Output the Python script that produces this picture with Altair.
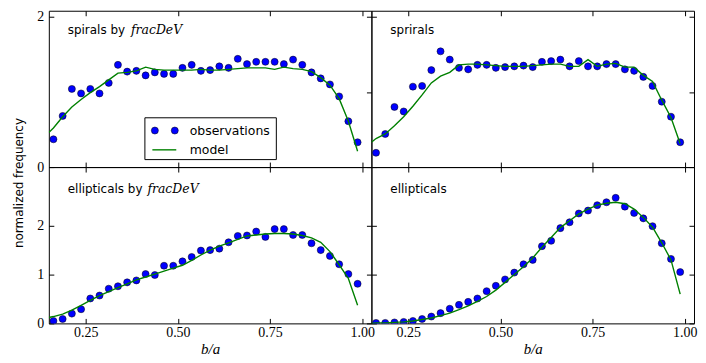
import altair as alt
import pandas as pd

# ---------------- data ----------------
obs_x = [0.1625, 0.1875, 0.2125, 0.2375, 0.2625, 0.2875, 0.3125, 0.3375, 0.3625, 0.3875,
         0.4125, 0.4375, 0.4625, 0.4875, 0.5125, 0.5375, 0.5625, 0.5875, 0.6125, 0.6375,
         0.6625, 0.6875, 0.7125, 0.7375, 0.7625, 0.7875, 0.8125, 0.8375, 0.8625, 0.8875,
         0.9125, 0.9375, 0.9625, 0.9875]
model_x = [0.15, 0.1625, 0.1875, 0.2125, 0.2375, 0.2625, 0.2875, 0.3125, 0.3375, 0.3625, 0.3875,
           0.4125, 0.4375, 0.4625, 0.4875, 0.5125, 0.5375, 0.5625, 0.5875, 0.6125, 0.6375,
           0.6625, 0.6875, 0.7125, 0.7375, 0.7625, 0.7875, 0.8125, 0.8375, 0.8625, 0.8875,
           0.9125, 0.9375, 0.9625, 0.9875]

spirals_dev_obs = [0.37, 0.68, 1.04, 0.98, 1.04, 0.98, 1.12, 1.36, 1.27, 1.28,
                   1.22, 1.26, 1.24, 1.24, 1.32, 1.36, 1.28, 1.29, 1.34, 1.32,
                   1.44, 1.37, 1.40, 1.40, 1.40, 1.37, 1.43, 1.36, 1.26, 1.18,
                   1.10, 0.94, 0.61, 0.33]
spirals_dev_model = [0.46, 0.52, 0.67, 0.80, 0.90, 0.99, 1.07, 1.16, 1.25, 1.26, 1.28,
                     1.33, 1.30, 1.29, 1.29, 1.29, 1.29, 1.30, 1.29, 1.29, 1.30,
                     1.31, 1.32, 1.32, 1.32, 1.30, 1.33, 1.31, 1.30, 1.27, 1.19,
                     1.09, 0.91, 0.61, 0.21]

spirals_obs = [0.19, 0.44, 0.80, 0.74, 1.07, 1.08, 1.29, 1.54, 1.43, 1.32,
               1.30, 1.36, 1.36, 1.32, 1.33, 1.34, 1.35, 1.33, 1.40, 1.41,
               1.43, 1.34, 1.41, 1.34, 1.34, 1.37, 1.37, 1.30, 1.28, 1.20,
               1.08, 0.87, 0.67, 0.33]
spirals_model = [0.33, 0.38, 0.44, 0.55, 0.67, 0.81, 0.96, 1.12, 1.21, 1.26, 1.36,
                 1.37, 1.37, 1.36, 1.35, 1.34, 1.34, 1.34, 1.35, 1.36, 1.37,
                 1.37, 1.34, 1.34, 1.43, 1.34, 1.37, 1.38, 1.33, 1.33, 1.22,
                 1.14, 0.89, 0.66, 0.31]

ellip_dev_obs = [0.05, 0.09, 0.20, 0.29, 0.51, 0.57, 0.71, 0.76, 0.84, 0.88,
                 1.01, 0.99, 1.18, 1.18, 1.27, 1.36, 1.49, 1.50, 1.53, 1.66,
                 1.79, 1.80, 1.88, 1.77, 1.93, 1.93, 1.81, 1.81, 1.64, 1.50,
                 1.38, 1.21, 1.01, 0.81]
ellip_dev_model = [0.12, 0.14, 0.19, 0.27, 0.37, 0.47, 0.57, 0.65, 0.73, 0.81, 0.89,
                   0.95, 1.01, 1.07, 1.13, 1.19, 1.29, 1.40, 1.50, 1.58, 1.65,
                   1.72, 1.79, 1.81, 1.83, 1.84, 1.84, 1.83, 1.80, 1.75, 1.66,
                   1.47, 1.20, 0.92, 0.37]

ellip_obs = [0.01, 0.01, 0.02, 0.03, 0.05, 0.09, 0.14, 0.21, 0.30, 0.38,
             0.44, 0.51, 0.66, 0.77, 0.90, 1.04, 1.21, 1.30, 1.58, 1.69,
             1.95, 2.07, 2.25, 2.31, 2.42, 2.48, 2.57, 2.39, 2.26, 2.15,
             1.99, 1.64, 1.32, 1.05]
ellip_model = [0.00, 0.01, 0.01, 0.02, 0.03, 0.05, 0.08, 0.11, 0.16, 0.21, 0.28,
               0.36, 0.45, 0.55, 0.68, 0.84, 1.00, 1.16, 1.34, 1.56, 1.76,
               1.96, 2.10, 2.24, 2.34, 2.42, 2.46, 2.48, 2.45, 2.34, 2.17,
               1.97, 1.65, 1.30, 0.60]

x_ticks = [0.25, 0.5, 0.75, 1.0]
y_ticks = [0, 1, 2]
x_domain = [0.15, 1.025]
legend_labels = ["observations", "model"]

W, H = 324, 157
BLUE = "#0000ff"
GREEN = "#008000"
SERIF = "Liberation Serif, Times New Roman, serif"
MATH = "DejaVu Serif, serif"
SANS = "DejaVu Sans, sans-serif"
DOT = 50


def axis(orient, values, labels, fmt=None, title_font=False):
    kw = dict(orient=orient, values=values, labels=labels, domain=False, grid=False,
              ticks=True, tickSize=5, offset=-5, tickColor="black", tickWidth=1,
              labelFont=SERIF, labelFontSize=14, labelColor="black",
              labelFlush=False, labelOverlap=False)
    if orient in ("bottom", "top"):
        kw["labelPadding"] = 2
    else:
        kw["labelPadding"] = 5
    if fmt:
        kw["format"] = fmt
    if title_font:
        kw.update(titleFont=SERIF, titleFontStyle="italic", titleFontWeight="normal",
                  titleFontSize=15, titleColor="black", titlePadding=2)
    return alt.Axis(**kw)


def text_layer(txt, x, y, font=SANS, size=12, style="normal"):
    return alt.Chart(pd.DataFrame({"t": [txt]})).mark_text(
        align="left", baseline="middle", font=font, fontSize=size, fontStyle=style,
        color="black").encode(text="t:N", x=alt.value(x), y=alt.value(y))


def panel(obs_vals, model_vals, ymax, label, math_label, label_y, math_x,
          show_x, show_y, legend=False):
    obs_df = pd.DataFrame({"ba": obs_x, "freq": obs_vals})
    mod_df = pd.DataFrame({"ba": model_x, "freq": model_vals})
    xs = alt.Scale(domain=x_domain, nice=False, zero=False)
    ys = alt.Scale(domain=[0, ymax], nice=False, zero=False)

    if show_x:
        xb = alt.X("ba:Q", scale=xs, title="b/a",
                   axis=axis("bottom", x_ticks, True, ".2f", title_font=True))
    else:
        xb = alt.X("ba:Q", scale=xs, title=None, axis=axis("bottom", x_ticks, False))
    yl = alt.Y("freq:Q", scale=ys, title=None,
               axis=axis("left", y_ticks, show_y, "d"))
    xt = alt.X("ba:Q", scale=xs, title=None, axis=axis("top", x_ticks, False))
    yr = alt.Y("freq:Q", scale=ys, title=None, axis=axis("right", y_ticks, False))

    pts = alt.Chart(obs_df).mark_circle(
        size=DOT, fill=BLUE, stroke="black", strokeWidth=0.5, opacity=1, clip=True
    ).encode(x=xb, y=yl)
    line = alt.Chart(mod_df).mark_line(
        color=GREEN, strokeWidth=1.4, clip=True
    ).encode(x=xt, y=yr)

    layers = [pts, line, text_layer(label, 19, label_y)]
    if math_label:
        layers.append(text_layer(math_label, math_x, label_y, font=MATH,
                                 size=12.5, style="italic"))
    if legend:
        one = pd.DataFrame({"t": [""]})
        layers.append(alt.Chart(one).mark_rect(
            fill="white", stroke="black", strokeWidth=1
        ).encode(x=alt.value(96.5), x2=alt.value(228.5),
                 y=alt.value(107.5), y2=alt.value(149.5)))
        for px in (106.5, 126.5):
            layers.append(alt.Chart(one).mark_circle(
                size=DOT, fill=BLUE, stroke="black", strokeWidth=0.5, opacity=1
            ).encode(x=alt.value(px), y=alt.value(120.3)))
        layers.append(alt.Chart(one).mark_rule(
            color=GREEN, strokeWidth=1.4
        ).encode(x=alt.value(104), x2=alt.value(128), y=alt.value(139.7)))
        layers.append(text_layer(legend_labels[0], 141.5, 120.3, size=12.5))
        layers.append(text_layer(legend_labels[1], 141.5, 139.7, size=12.5))

    return alt.layer(*layers).resolve_axis(x="independent", y="independent").properties(
        width=W, height=H, view=alt.ViewBackground(stroke="black", strokeWidth=1))


tl = panel(spirals_dev_obs, spirals_dev_model, 2.08, "spirals by", "fracDeV", 19.5, 82.5,
           show_x=False, show_y=True, legend=True)
tr = panel(spirals_obs, spirals_model, 2.08, "sprirals", None, 19.5, 0,
           show_x=False, show_y=False)
bl = panel(ellip_dev_obs, ellip_dev_model, 3.2, "ellipticals by", "fracDeV", 22.5, 99,
           show_x=True, show_y=True)
br = panel(ellip_obs, ellip_model, 3.2, "ellipticals", None, 22.5, 0,
           show_x=True, show_y=False)

chart = alt.concat(tl, tr, bl, br, columns=2, spacing=0, bounds="flush").properties(
    title=alt.TitleParams("normalized frequency", orient="left", anchor="middle",
                          font=SANS, fontSize=12, fontWeight="normal", color="black",
                          offset=10),
    padding={"left": 5, "top": 0, "right": 0, "bottom": 0},
    background="white",
).configure_view(stroke="black", strokeWidth=1)

chart.save("out.html", embed_options={"renderer": "svg", "actions": False})
